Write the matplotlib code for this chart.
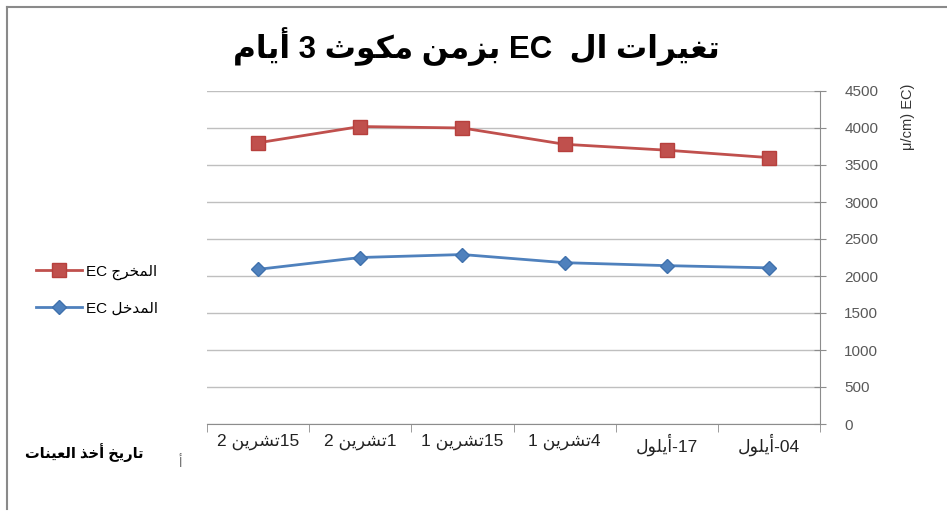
import numpy as np
import matplotlib
matplotlib.use("Agg")
import matplotlib.pyplot as plt
from matplotlib.lines import Line2D

plt.rcParams['font.family'] = ['Liberation Sans', 'DejaVu Sans']

# data (chronological order, drawn right to left as in the original)
days = ['04', '17', '4', '15', '1', '15']
seps = ['-', '-', '', '', '', '']
months = ['أيلول', 'أيلول', 'تشرين', 'تشرين', 'تشرين', 'تشرين']
month_no = ['', '', '1', '1', '2', '2']
ec_out = [3600, 3700, 3780, 4000, 4020, 3800]
ec_in = [2110, 2140, 2180, 2290, 2250, 2090]
y_ticks = [0, 500, 1000, 1500, 2000, 2500, 3000, 3500, 4000, 4500]

title_words = ['تغيرات', 'ال', '', 'EC', 'بزمن', 'مكوث', '3', 'أيام']
label_out = ['المخرج', 'EC']
label_in = ['المدخل', 'EC']
x_title = ['تاريخ', 'أخذ', 'العينات']
y_title = 'μ/cm) EC)'

# minimal arabic shaping: isolated code point, dual joining?
FORMS = {
    'ا': (0xFE8D, False), 'أ': (0xFE83, False), 'ب': (0xFE8F, True), 'ت': (0xFE95, True),
    'ث': (0xFE99, True), 'ج': (0xFE9D, True), 'ح': (0xFEA1, True), 'خ': (0xFEA5, True),
    'د': (0xFEA9, False), 'ذ': (0xFEAB, False), 'ر': (0xFEAD, False), 'ز': (0xFEAF, False),
    'س': (0xFEB1, True), 'ش': (0xFEB5, True), 'ع': (0xFEC9, True), 'غ': (0xFECD, True),
    'ك': (0xFED9, True), 'ل': (0xFEDD, True), 'م': (0xFEE1, True), 'ن': (0xFEE5, True),
    'و': (0xFEED, False), 'ي': (0xFEF1, True),
}


def shape(s):
    out = []
    for i, ch in enumerate(s):
        if ch not in FORMS:
            out.append(ch)
            continue
        base, dual = FORMS[ch]
        prev = s[i - 1] if i > 0 else ''
        nxt = s[i + 1] if i + 1 < len(s) else ''
        joins_prev = prev in FORMS and FORMS[prev][1]
        joins_next = dual and nxt in FORMS
        out.append(chr(base + (1 if joins_prev else 0) + (2 if joins_next else 0)))
    return ''.join(out)


def vis(word):  # one word in display order
    if any(c in FORMS for c in word):
        return shape(word)[::-1]
    return word


def rtl(words):  # words in reading order -> left-to-right display string
    return ' '.join(vis(w) for w in reversed(words))


# right-to-left labels: month number on the left, day on the right
tick_labels = [(n + ' ' if n else '') + vis(m) + s + d
               for d, s, m, n in zip(days, seps, months, month_no)]

W, H = 947, 511
fig = plt.figure(figsize=(W / 100, H / 100), dpi=100)
ax = fig.add_axes([207 / W, 1 - 424 / H, (820 - 207) / W, (424 - 91) / H])

x = np.arange(len(days))
ax.plot(x, ec_out, color='#C0504D', lw=2, marker='s', ms=10,
        markeredgecolor='#B7403D', label=rtl(label_out))
ax.plot(x, ec_in, color='#4F81BD', lw=2, marker='D', ms=7,
        markeredgecolor='#3F71AD', label=rtl(label_in))

ax.set_xlim(len(days) - 0.5, -0.5)
ax.set_ylim(0, 4500)
ax.set_yticks(y_ticks)
ax.yaxis.tick_right()
ax.tick_params(axis='y', direction='inout', length=9, color='#8c8c8c',
               labelsize=11, labelcolor='#595959', pad=13)
ax.grid(axis='y', color='#bfbfbf', lw=1)
ax.set_axisbelow(True)

ax.set_xticks(x)
ax.set_xticklabels(tick_labels, fontsize=12.5, color='#222222')
ax.set_xticks(np.arange(-0.5, len(days), 1), minor=True)
ax.tick_params(axis='x', which='major', length=0, pad=7)
ax.tick_params(axis='x', which='minor', length=6, color='#8c8c8c', direction='out')

for side in ['top', 'left']:
    ax.spines[side].set_visible(False)
ax.spines['bottom'].set_color('#8c8c8c')
ax.spines['right'].set_color('#8c8c8c')

fig.text(476 / W, 1 - 47 / H, rtl(title_words), fontsize=22.5, fontweight='bold',
         ha='center', va='center')
fig.text(908 / W, 1 - 117 / H, y_title, rotation=90, fontsize=10.5,
         ha='center', va='center', color='#333333')
fig.text(84 / W, 1 - 453 / H, rtl(x_title), fontsize=10.5, fontweight='bold',
         ha='center', va='center')
fig.text(180 / W, 1 - 463 / H, vis('أ'), fontsize=9, color='#666666',
         ha='center', va='center')

fig.legend(loc='center left', bbox_to_anchor=(22 / W, 1 - 290 / H), frameon=False,
           fontsize=11, handlelength=3.0, labelspacing=1.4, handletextpad=0.3)

# outer chart frame
fig.add_artist(Line2D([6.5 / W, 1], [1 - 7.5 / H, 1 - 7.5 / H], color='#8a8a8a', lw=1.5))
fig.add_artist(Line2D([6.5 / W, 6.5 / W], [0.003, 1 - 7.5 / H], color='#8a8a8a', lw=1.5))

fig.savefig('out.png', dpi=100)
